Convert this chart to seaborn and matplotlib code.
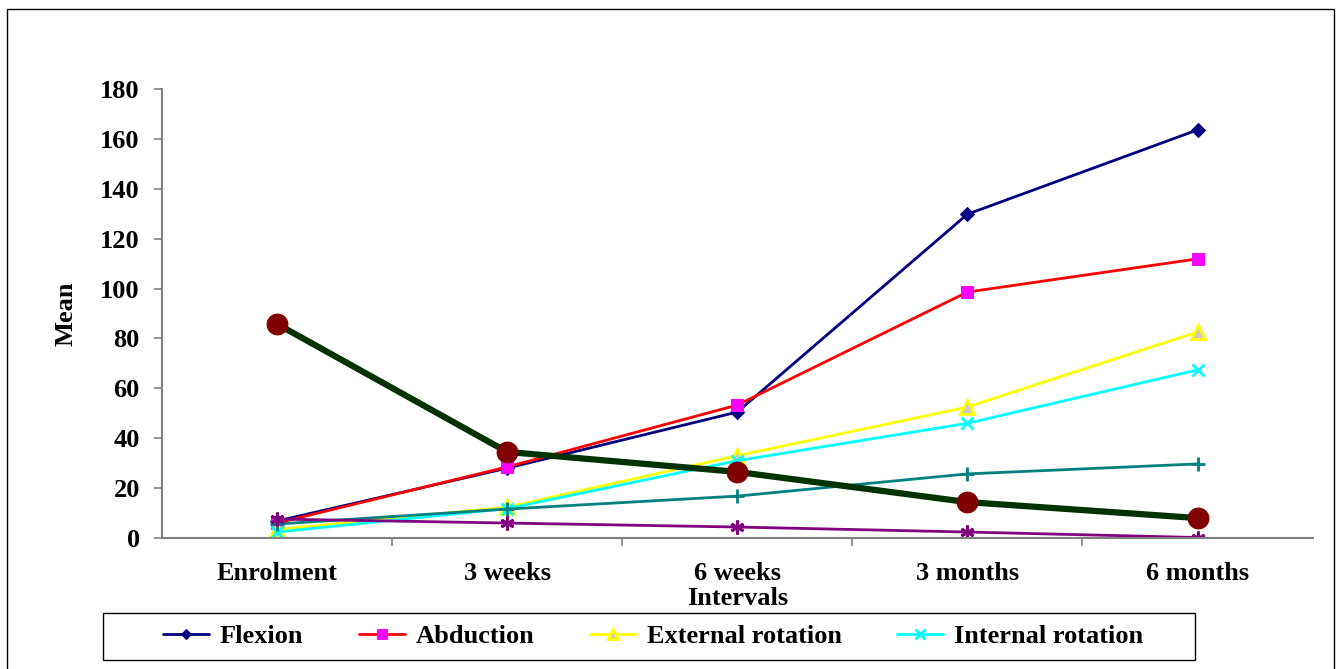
import matplotlib
matplotlib.use("Agg")
import matplotlib.pyplot as plt
from matplotlib.patches import Rectangle
import numpy as np
import pandas as pd
import seaborn as sns

intervals = ["Enrolment", "3 weeks", "6 weeks", "3 months", "6 months"]

flexion = [6.8, 28.0, 50.5, 129.8, 163.6]
abduction = [6.0, 28.5, 53.3, 98.6, 111.9]
external_rotation = [3.4, 12.4, 33.0, 52.5, 82.6]
internal_rotation = [2.4, 11.8, 31.0, 46.0, 67.4]
series_plus = [5.6, 11.6, 16.8, 25.7, 29.7]
series_star = [7.6, 6.0, 4.4, 2.4, 0.2]
series_circle = [85.8, 34.5, 26.5, 14.4, 8.0]

sns.set_theme(style="white")
plt.rcParams["font.family"] = ["Liberation Serif", "DejaVu Serif"]
plt.rcParams["font.weight"] = "bold"
plt.rcParams["text.color"] = "black"
plt.rcParams["axes.labelcolor"] = "black"
plt.rcParams["xtick.color"] = "black"
plt.rcParams["ytick.color"] = "black"

W, H = 1341, 669
fig = plt.figure(figsize=(W / 100, H / 100), dpi=100)
ax = fig.add_axes([0.1208, 0.1958, 0.858, 0.6712])

xpos = np.arange(len(intervals))

styles = [
    ("Flexion", flexion, dict(color="#000080", marker="D", markersize=7,
                              markerfacecolor="#000080", markeredgecolor="#000080", linewidth=2)),
    ("Abduction", abduction, dict(color="#ff0000", marker="s", markersize=9,
                                  markerfacecolor="#ff00ff", markeredgecolor="#ff00ff", linewidth=2)),
    ("External rotation", external_rotation, dict(color="#ffff00", marker="^", markersize=10,
                                                  markerfacecolor="#c8c8c8", markeredgecolor="#ffff00",
                                                  markeredgewidth=2, linewidth=2)),
    ("Internal rotation", internal_rotation, dict(color="#00ffff", marker="x", markersize=9,
                                                  markeredgecolor="#00ffff",
                                                  markeredgewidth=2, linewidth=2)),
    ("_plus", series_plus, dict(color="#008080", marker="+", markersize=10,
                                markeredgecolor="#008080",
                                markeredgewidth=2, linewidth=2)),
    ("_star", series_star, dict(color="#800080", marker=(6, 2, 0), markersize=10,
                                markeredgecolor="#800080",
                                markeredgewidth=2, linewidth=2)),
    ("_circle", series_circle, dict(color="#003300", marker="o", markersize=15,
                                    markerfacecolor="#800000", markeredgecolor="#800000",
                                    linewidth=4.5, zorder=5)),
]

for name, values, kw in styles:
    df = pd.DataFrame({"x": xpos, "y": values})
    sns.lineplot(data=df, x="x", y="y", ax=ax, label=name, sort=False, legend=False, **kw)

ax.set_xlim(-0.5, 4.5)
ax.set_ylim(0, 180)
ax.set_yticks(np.arange(0, 181, 20))
ax.set_xticks(xpos)
ax.set_xticklabels(intervals)
ax.set_xticks(np.arange(0.5, 4.5, 1.0), minor=True)

for side in ["top", "right"]:
    ax.spines[side].set_visible(False)
for side in ["left", "bottom"]:
    ax.spines[side].set_color("#808080")
    ax.spines[side].set_linewidth(1.5)

ax.tick_params(axis="y", which="major", direction="out", length=6, width=1.2,
               color="#808080", left=True, labelsize=19, pad=10, labelcolor="black")
ax.tick_params(axis="x", which="major", length=0, labelsize=19, pad=17, labelcolor="black")
ax.tick_params(axis="x", which="minor", direction="out", length=6, width=1.2,
               color="#808080", bottom=True)
for lab in ax.get_xticklabels() + ax.get_yticklabels():
    lab.set_fontweight("bold")

ax.set_xlabel("Intervals", fontsize=19, fontweight="bold", labelpad=2, color="black")
ax.set_ylabel("Mean", fontsize=19, fontweight="bold", labelpad=16, color="black")

# legend box drawn as a separate frame, entries laid out inside it
box_x0, box_x1, box_y0, box_y1 = 103, 1195, 613, 660
fig.patches.append(Rectangle((box_x0 / W, 1 - box_y1 / H), (box_x1 - box_x0) / W,
                             (box_y1 - box_y0) / H, transform=fig.transFigure,
                             fill=False, edgecolor="#000000", linewidth=1.0))

handles, labels = ax.get_legend_handles_labels()
keep = [(h, l) for h, l in zip(handles, labels) if not l.startswith("_")]
leg = fig.legend([h for h, _ in keep], [l for _, l in keep], ncol=4,
                 loc="center", bbox_to_anchor=(653 / W, 1 - 636.5 / H),
                 prop={"size": 19, "weight": "bold"},
                 frameon=False, handlelength=1.75, handletextpad=0.4,
                 columnspacing=2.1, borderpad=0, borderaxespad=0, markerscale=0.75)
for t in leg.get_texts():
    t.set_color("black")

fig.patches.append(Rectangle((7 / W, -0.05), (1334 - 7) / W, 1.05 - 9 / H,
                             transform=fig.transFigure, fill=False,
                             edgecolor="#000000", linewidth=1.0))

fig.savefig("out.png", dpi=100)
